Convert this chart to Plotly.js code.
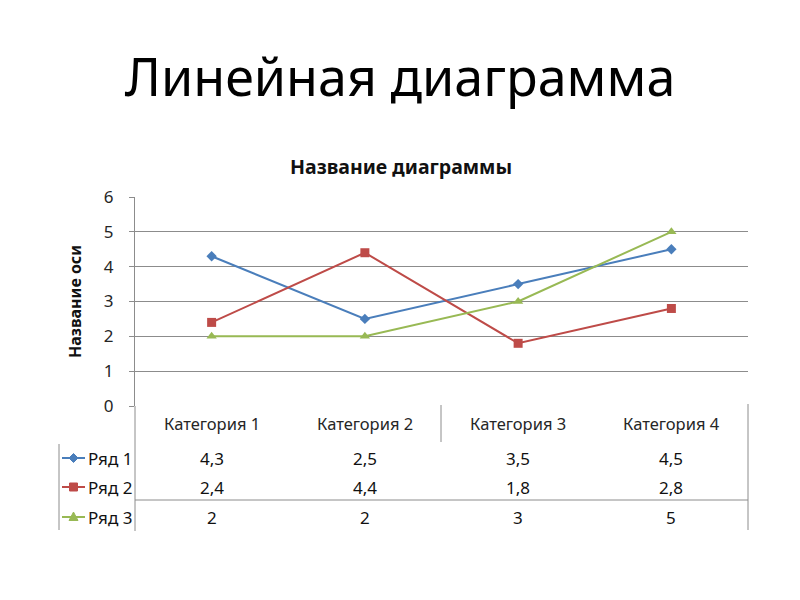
<!DOCTYPE html>
<html>
<head>
<meta charset="utf-8">
<script src="https://cdn.plot.ly/plotly-3.0.1.min.js"></script>
<style>html,body{margin:0;padding:0;background:#fff;}#chart{width:800px;height:600px;}</style>
</head>
<body>
<div id="chart"></div>
<script>
const categories = ["Категория 1", "Категория 2", "Категория 3", "Категория 4"];
const seriesNames = ["Ряд 1", "Ряд 2", "Ряд 3"];
const series1 = [4.3, 2.5, 3.5, 4.5];
const series2 = [2.4, 4.4, 1.8, 2.8];
const series3 = [2, 2, 3, 5];
const yTicks = [0, 1, 2, 3, 4, 5, 6];

const allSeries = [series1, series2, series3];
const colors = ["#4A7EBB", "#BE4B48", "#98B954"];
const symbols = ["diamond", "square", "triangle-up"];
const msizes = [8, 9, 9];

const FONT = "Noto Sans, Open Sans, sans-serif";
const TXT = "#262626";
const BORDER = "#8c8c8c";

const traces = allSeries.map((vals, i) => ({
  type: "scatter", mode: "lines+markers",
  x: categories, y: vals, name: seriesNames[i],
  line: {color: colors[i], width: 2},
  marker: {color: colors[i], symbol: symbols[i], size: msizes[i]},
  showlegend: false, hoverinfo: "skip"
}));

// paper coords from page pixels (plot area x 135..748, y 197..406)
const py = p => (406 - p) / 209;
const px = p => (p - 135) / 613;

const annotations = [];
categories.forEach((c, j) => {
  annotations.push({xref: "x", yref: "paper", x: c, y: py(423), text: c, showarrow: false,
    font: {family: FONT, size: 16.5, color: TXT}, xanchor: "center", yanchor: "middle"});
});
const rowY = [458, 487, 517];
allSeries.forEach((vals, i) => {
  vals.forEach((v, j) => {
    annotations.push({xref: "x", yref: "paper", x: categories[j], y: py(rowY[i]),
      text: String(v).replace(".", ","), showarrow: false,
      font: {family: FONT, size: 17, color: "#111"}, xanchor: "center", yanchor: "middle"});
  });
  annotations.push({xref: "paper", yref: "paper", x: px(86), y: py(rowY[i]), text: seriesNames[i],
    showarrow: false, font: {family: FONT, size: 17, color: "#111"}, xanchor: "left", yanchor: "middle"});
});
annotations.push({xref: "paper", yref: "paper", x: px(401), y: py(166), text: "<b>Название диаграммы</b>",
  showarrow: false, font: {family: FONT, size: 19.5, color: "#111"}, xanchor: "center", yanchor: "middle"});

const shapes = [];
// legend keys (line + marker glyph)
const keyPath = (sym, cx, cy) => {
  const P = (dx, dy) => px(cx + dx) + "," + py(cy + dy);
  if (sym === "diamond") return "M" + P(0, -4.5) + " L" + P(4.5, 0) + " L" + P(0, 4.5) + " L" + P(-4.5, 0) + " Z";
  if (sym === "square") return "M" + P(-4, -4) + " L" + P(4, -4) + " L" + P(4, 4) + " L" + P(-4, 4) + " Z";
  return "M" + P(0, -5) + " L" + P(4.5, 3.5) + " L" + P(-4.5, 3.5) + " Z";
};
allSeries.forEach((vals, i) => {
  shapes.push({type: "line", xref: "paper", yref: "paper", x0: px(62), x1: px(85), y0: py(rowY[i]), y1: py(rowY[i]),
    line: {color: colors[i], width: 2}});
  shapes.push({type: "path", xref: "paper", yref: "paper", path: keyPath(symbols[i], 73.5, rowY[i]),
    fillcolor: colors[i], line: {color: colors[i], width: 1}});
});
// table borders
const vline = (x, y0, y1) => ({type: "line", xref: "paper", yref: "paper", x0: px(x), x1: px(x), y0: py(y0), y1: py(y1), line: {color: BORDER, width: 1}});
shapes.push(vline(135, 406, 531));
shapes.push(vline(441, 405, 442));
shapes.push(vline(748, 404, 530));
shapes.push(vline(59, 444, 530));
shapes.push({type: "line", xref: "paper", yref: "paper", x0: px(135), x1: px(748), y0: py(500), y1: py(500), line: {color: BORDER, width: 1}});

const layout = {
  width: 800, height: 600,
  paper_bgcolor: "#fff", plot_bgcolor: "#fff",
  margin: {l: 135, r: 52, t: 197, b: 194},
  title: {text: "Линейная диаграмма", font: {family: FONT, size: 52, color: "#000"},
    x: 0.5, xanchor: "center", xref: "container", y: 1 - 78 / 600, yanchor: "middle", yref: "container"},
  xaxis: {type: "category", range: [-0.5, 3.5], showticklabels: false, showgrid: false,
    zeroline: false, showline: false, ticks: ""},
  yaxis: {range: [0, 6], tickvals: yTicks, showgrid: true, gridcolor: BORDER, gridwidth: 1,
    zeroline: false, showline: true, linecolor: BORDER, linewidth: 1, ticks: "outside", ticklen: 5,
    tickcolor: BORDER, ticklabelstandoff: 12,
    tickfont: {family: FONT, size: 17, color: TXT},
    title: {text: "<b>Название оси</b>", font: {family: FONT, size: 16, color: "#111"}, standoff: 18}},
  annotations: annotations, shapes: shapes
};

Plotly.newPlot("chart", traces, layout, {displayModeBar: false, staticPlot: true});
</script>
</body>
</html>
